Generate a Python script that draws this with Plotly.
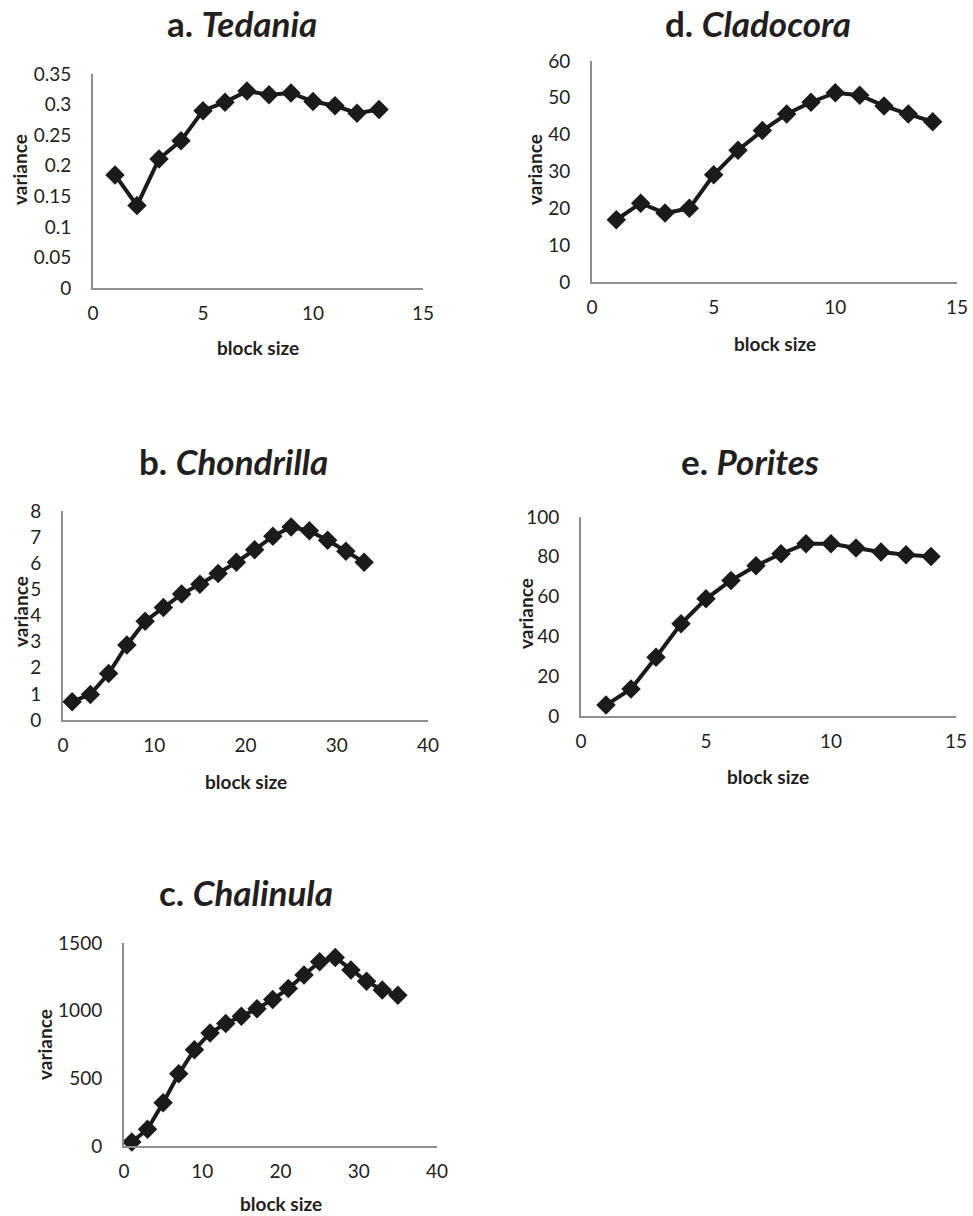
import plotly.graph_objects as go

# ---- data ----
tedania_x = list(range(1, 14))
tedania_y = [0.185, 0.135, 0.211, 0.241, 0.29, 0.304, 0.322, 0.316, 0.319, 0.305, 0.298, 0.286, 0.292]

cladocora_x = list(range(1, 15))
cladocora_y = [16.9, 21.4, 18.7, 20.0, 29.1, 35.8, 41.1, 45.6, 48.8, 51.4, 50.7, 47.8, 45.6, 43.5]

chondrilla_x = list(range(1, 34, 2))
chondrilla_y = [0.70, 0.98, 1.78, 2.87, 3.78, 4.31, 4.82, 5.20, 5.61, 6.04, 6.52, 7.03, 7.39, 7.24, 6.88, 6.46, 6.04]

porites_x = list(range(1, 15))
porites_y = [5.5, 13.6, 29.5, 46.3, 58.9, 68.1, 75.5, 81.5, 86.6, 86.6, 84.4, 82.4, 81.0, 80.2]

chalinula_x = list(range(1, 36, 2))
chalinula_y = [30, 124, 320, 533, 711, 835, 905, 959, 1014, 1083, 1163, 1264, 1361, 1393, 1301, 1217, 1153, 1113]

panels = [
    # letter, name, x, y, xmax, xdtick, ymax, ydtick
    ("a", "Tedania", tedania_x, tedania_y, 15, 5, 0.35, 0.05),
    ("d", "Cladocora", cladocora_x, cladocora_y, 15, 5, 60, 10),
    ("b", "Chondrilla", chondrilla_x, chondrilla_y, 40, 10, 8, 1),
    ("e", "Porites", porites_x, porites_y, 15, 5, 100, 20),
    ("c", "Chalinula", chalinula_x, chalinula_y, 40, 10, 1500, 500),
]

W, H = 973, 1216


def px(x):
    return x / W


def py(y):
    return 1 - y / H


# pixel boxes in window coordinates: x0, x1, ytop, ybottom
boxes = [
    (93, 423, 74, 288),
    (592, 957, 61, 282),
    (63, 428, 511, 720),
    (581, 956, 517, 716),
    (124, 437, 943, 1146),
]
title_pos = [(242, 23), (758, 23), (233, 461), (750, 461), (246, 892)]
xlab_pos = [(258, 348), (775, 343), (246, 781), (768, 776), (281, 1203)]
ylab_pos = [(20, 170), (535, 170), (20, 612), (525, 614), (44, 1045)]

FONT = "Lato, 'Open Sans', sans-serif"
TXT = "#231f20"
fig = go.Figure()
annotations = []
for i, (letter, name, xs, ys, xmax, xdt, ymax, ydt) in enumerate(panels):
    k = "" if i == 0 else str(i + 1)
    fig.add_trace(go.Scatter(
        x=xs, y=ys, mode="lines+markers",
        line=dict(color="#1c1a1a", width=4),
        marker=dict(symbol="diamond", size=15, color="#1c1a1a"),
        xaxis="x" + k, yaxis="y" + k, showlegend=False, cliponaxis=False,
    ))
    x0, x1, yt, yb = boxes[i]
    fig.layout["xaxis" + k] = dict(
        domain=[px(x0), px(x1)], range=[0, xmax], dtick=xdt, tick0=0,
        anchor="y" + k, showgrid=False, zeroline=False, automargin=False,
        showline=True, linecolor="#8e8e8e", linewidth=2,
        ticks="outside", ticklen=7, tickcolor="rgba(0,0,0,0)",
        tickfont=dict(family=FONT, size=19, color=TXT),
    )
    fig.layout["yaxis" + k] = dict(
        domain=[py(yb), py(yt)], range=[0, ymax], dtick=ydt, tick0=0,
        anchor="x" + k, showgrid=False, zeroline=False, automargin=False,
        showline=True, linecolor="#8e8e8e", linewidth=2,
        ticks="outside", ticklen=16, tickcolor="rgba(0,0,0,0)",
        tickfont=dict(family=FONT, size=19, color=TXT),
    )
    tx, ty = title_pos[i]
    annotations.append(dict(
        text=f"<b>{letter}. <i>{name}</i></b>", x=px(tx), y=py(ty),
        xref="paper", yref="paper", showarrow=False, xanchor="center", yanchor="middle",
        font=dict(family=FONT, size=35, color=TXT),
    ))
    lx, ly = xlab_pos[i]
    annotations.append(dict(
        text="<b>block size</b>", x=px(lx), y=py(ly),
        xref="paper", yref="paper", showarrow=False, xanchor="center", yanchor="middle",
        font=dict(family=FONT, size=19, color=TXT),
    ))
    vx, vy = ylab_pos[i]
    annotations.append(dict(
        text="<b>variance</b>", x=px(vx), y=py(vy), textangle=-90,
        xref="paper", yref="paper", showarrow=False, xanchor="center", yanchor="middle",
        font=dict(family=FONT, size=19, color=TXT),
    ))

fig.update_layout(
    width=W, height=H, margin=dict(l=0, r=0, t=0, b=0),
    paper_bgcolor="white", plot_bgcolor="white",
    annotations=annotations,
)
# remove the browser's default 8px body margin so the figure fills the window exactly
fig.write_html("out.html", config={"displayModeBar": False},
               post_script="document.body.style.margin='0px';")
